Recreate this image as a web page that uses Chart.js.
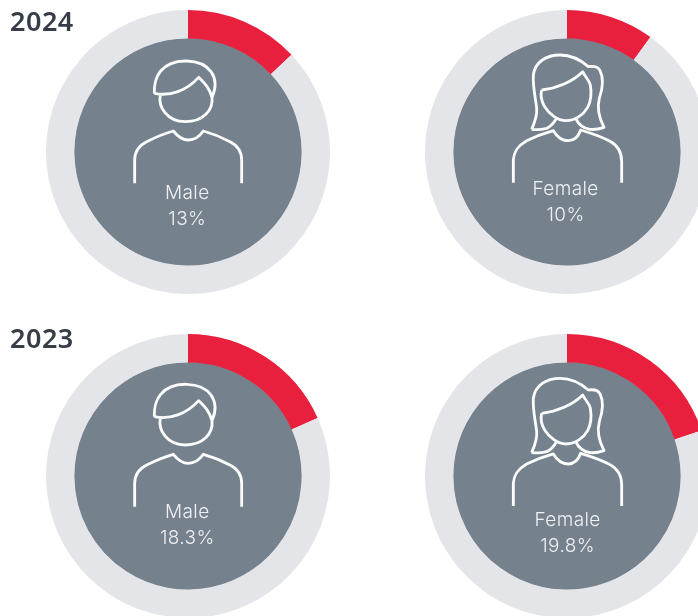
<!DOCTYPE html>
<html>
<head>
<meta charset="utf-8">
<script src="https://cdn.jsdelivr.net/npm/chart.js@4"></script>
<style>
html,body{margin:0;padding:0;width:698px;height:616px;overflow:hidden;background:#fff}
canvas{position:absolute;display:block}
.year{position:absolute;left:10px;font:600 27px/30px "Noto Sans",sans-serif;color:#363d47;letter-spacing:.5px}
.lab{position:absolute;width:160px;text-align:center;font:300 19px/25.5px Inter,sans-serif;color:#eef0f2;letter-spacing:.4px}
svg{position:absolute;left:0;top:0}
</style>
</head>
<body>
<script>
const years = ["2024", "2023"];
const genders = ["Male", "Female"];
const share2024 = [13, 10];
const share2023 = [18.3, 19.8];
const rest2024 = [87, 90];
const rest2023 = [81.7, 80.2];
const shareText2024 = ["13%", "10%"];
const shareText2023 = ["18.3%", "19.8%"];

const RED = "#e81f3d", RING = "#e3e5e8", DISK = "#76818e";
const R = 142, CX = [188.3, 566.6], CY = [152.4, 476];
const yearTop = [6, 323];
const labelTop = [[180, 176], [499, 507]];
const labelDx = [[-1, -1], [-1, 1]];
const iconDy = [0, 323.3];

const malePaths = [
  "M463 280 C462 262 466 232 482 213 C500 192 530 182 560 183 C590 184 618 194 633 215 C648 236 648 265 636 292 M463 280 C510 290 560 272 596 232 C612 248 628 262 636 292 M481 284 C474 320 500 365 556 365 C610 365 640 330 636 292",
  "M404 550 L404 480 C404 452 418 436 440 425 C470 410 495 400 520 393 C535 412 548 420 565 420 C582 420 597 412 610 393 C635 400 662 410 690 425 C712 436 725 452 725 480 L725 550"
];
const femalePaths = [
  "M335 388 C345 365 352 345 350 325 C347 295 338 262 340 225 C345 185 380 165 420 165 C450 165 480 178 505 200 C520 198 535 200 540 212 C552 235 548 265 538 295 C530 325 538 355 552 382 C535 388 520 389 510 388 C490 385 475 372 467 355 M335 388 C350 390 368 388 380 385 C392 380 402 368 410 355",
  "M365 270 C410 265 458 245 488 215 C496 232 508 240 511 255 C516 285 512 305 503 322 C490 345 465 362 438 362 C412 362 388 342 374 320 C364 303 361 285 365 270",
  "M280 548 L280 480 C282 450 298 435 320 422 C345 410 372 400 400 392 C412 412 430 422 445 422 C462 422 475 410 482 390 C515 400 545 410 570 424 C592 436 605 455 605 485 L605 548"
];

const ns = "http://www.w3.org/2000/svg";
const overlay = document.createElementNS(ns, "svg");

function addIcon(paths, ox, oy) {
  const g = document.createElementNS(ns, "g");
  g.setAttribute("transform", `translate(${ox} ${oy}) scale(${1/3})`);
  g.setAttribute("fill", "none");
  g.setAttribute("stroke", "#fbfcfc");
  g.setAttribute("stroke-width", "8.5");
  g.setAttribute("stroke-linejoin", "round");
  paths.forEach(d => {
    const p = document.createElementNS(ns, "path");
    p.setAttribute("d", d);
    g.appendChild(p);
  });
  overlay.appendChild(g);
}

const diskPlugin = {
  id: "disk",
  beforeDatasetsDraw(chart) {
    const arc = chart.getDatasetMeta(0).data[0];
    const c = chart.ctx;
    c.save();
    c.fillStyle = DISK;
    c.beginPath();
    c.arc(arc.x, arc.y, arc.innerRadius + 0.5, 0, Math.PI * 2);
    c.fill();
    c.restore();
  }
};

function donut(value, rest, cx, cy) {
  const cv = document.createElement("canvas");
  cv.width = R * 2; cv.height = R * 2;
  cv.style.left = (cx - R) + "px";
  cv.style.top = (cy - R) + "px";
  cv.style.width = R * 2 + "px";
  cv.style.height = R * 2 + "px";
  document.body.appendChild(cv);
  new Chart(cv, {
    type: "doughnut",
    data: { labels: ["Share", "Rest"], datasets: [{ data: [value, rest], backgroundColor: [RED, RING], borderWidth: 0 }] },
    options: {
      responsive: false, animation: false, cutout: "80%",
      layout: { padding: 0 },
      plugins: { legend: { display: false }, tooltip: { enabled: false } }
    },
    plugins: [diskPlugin]
  });
}

function label(a, b, cx, top) {
  const d = document.createElement("div");
  d.className = "lab";
  d.style.left = (cx - 80) + "px";
  d.style.top = top + "px";
  d.innerHTML = a + "<br>" + b;
  document.body.appendChild(d);
}

[[share2024, rest2024, shareText2024], [share2023, rest2023, shareText2023]].forEach((row, y) => {
  row[0].forEach((v, i) => donut(v, row[1][i], CX[i], CY[y]));
  const t = document.createElement("div");
  t.className = "year";
  t.style.top = yearTop[y] + "px";
  t.textContent = years[y];
  document.body.appendChild(t);
});

overlay.setAttribute("width", "698");
overlay.setAttribute("height", "616");
document.body.appendChild(overlay);
[0, 1].forEach(y => {
  addIcon(malePaths, 0, iconDy[y]);
  addIcon(femalePaths, 420, iconDy[y]);
});
[shareText2024, shareText2023].forEach((txt, y) => {
  txt.forEach((s, i) => label(genders[i], s, CX[i] + labelDx[y][i], labelTop[y][i]));
});
</script>
</body>
</html>
